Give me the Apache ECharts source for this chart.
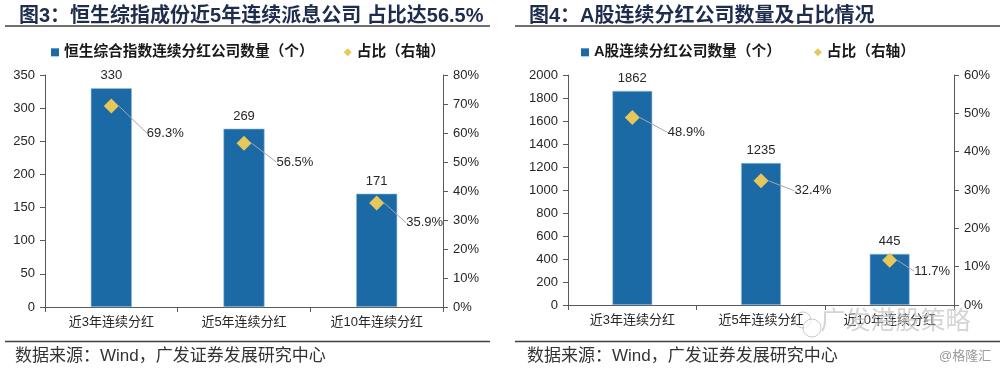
<!DOCTYPE html>
<html>
<head>
<meta charset="utf-8">
<script src="https://cdn.jsdelivr.net/npm/echarts@6/dist/echarts.min.js"></script>
<style>
html,body{margin:0;padding:0;background:#fff;}
#c{width:1000px;height:370px;}
</style>
</head>
<body>
<div id="c"></div>
<script>
// ---- data ----
var categories = ['近3年连续分红', '近5年连续分红', '近10年连续分红'];
var hsCounts = [330, 269, 171];
var hsShare = [69.3, 56.5, 35.9];
var aCounts = [1862, 1235, 445];
var aShare = [48.9, 32.4, 11.7];
var hsLeftTicks = { min: 0, max: 350, interval: 50 };
var hsRightTicks = { min: 0, max: 80, interval: 10 };
var aLeftTicks = { min: 0, max: 2000, interval: 200 };
var aRightTicks = { min: 0, max: 60, interval: 10 };

var titleLeft = '图3：恒生综指成份近5年连续派息公司 占比达56.5%';
var titleRight = '图4：A股连续分红公司数量及占比情况';
var legendBarLeft = '恒生综合指数连续分红公司数量（个）';
var legendBarRight = 'A股连续分红公司数量（个）';
var legendShare = '占比（右轴）';
var sourceText = '数据来源：Wind，广发证券发展研究中心';

// ---- style ----
var FONT = '"Liberation Sans", Arial, "Noto Sans CJK SC", sans-serif';
var BAR = '#1B6AA5';
var GOLD = '#E8C75A';
var AXIS = '#595959';
var TXT = '#262626';
var hsLabelOffsets = [[23, 27], [20, 19], [17, 20]];
var aLabelOffsets = [[23, 15], [21, 10], [12, 11]];

function yAxisCfg(ticks, grid, pos, pct) {
  return {
    type: 'value', gridIndex: grid, position: pos,
    min: ticks.min, max: ticks.max, interval: ticks.interval,
    axisLine: { show: true, lineStyle: { color: AXIS, width: 1 } },
    axisTick: { show: true, length: 5, lineStyle: { color: AXIS } },
    splitLine: { show: false },
    axisLabel: {
      color: TXT, fontSize: 13, fontFamily: FONT, margin: 10,
      formatter: function (v) { return pct ? v + '%' : String(v); }
    }
  };
}
function xAxisCfg(grid) {
  return {
    type: 'category', gridIndex: grid, data: categories,
    axisLine: { lineStyle: { color: AXIS, width: 1.2 } },
    axisTick: { show: true, length: 5, alignWithLabel: false, lineStyle: { color: AXIS } },
    axisLabel: { color: TXT, fontSize: 13, fontFamily: FONT, margin: 9 }
  };
}
function scatterSeries(data, xi, yi, offsets) {
  return {
    name: legendShare, type: 'scatter', xAxisIndex: xi, yAxisIndex: yi,
    data: data, symbol: 'diamond', symbolSize: 15,
    itemStyle: { color: GOLD, opacity: 1 },
    z: 5,
    label: {
      show: true, position: 'right', color: TXT, fontSize: 13, fontFamily: FONT,
      formatter: function (p) { return p.value.toFixed(1) + '%'; }
    },
    labelLine: { show: true, lineStyle: { color: '#A6A6A6', width: 1 } },
    labelLayout: function (p) {
      var o = offsets[p.dataIndex];
      return { dx: o[0], dy: o[1] };
    }
  };
}
function barSeries(name, data, xi, yi) {
  return {
    name: name, type: 'bar', xAxisIndex: xi, yAxisIndex: yi,
    data: data, barWidth: '31%',
    itemStyle: { color: BAR, borderColor: '#9DC3E6', borderWidth: 0.6 },
    label: { show: true, position: 'top', distance: 6, color: TXT, fontSize: 13, fontFamily: FONT }
  };
}

var chart = echarts.init(document.getElementById('c'), null, { renderer: 'canvas' });
chart.setOption({
  backgroundColor: '#fff',
  animation: false,
  textStyle: { fontFamily: FONT },
  title: [
    { text: titleLeft, left: 14, top: 1, textStyle: { fontSize: 20, fontWeight: 'bold', color: '#1E2D4E', fontFamily: FONT } },
    { text: titleRight, left: 524, top: 1, textStyle: { fontSize: 20, fontWeight: 'bold', color: '#1E2D4E', fontFamily: FONT } }
  ],
  legend: [
    {
      left: 46, top: 40, itemGap: 30, itemWidth: 8, itemHeight: 8,
      itemStyle: { borderWidth: 0 },
      data: [{ name: legendBarLeft, icon: 'rect' }, { name: legendShare, icon: 'diamond' }],
      textStyle: { fontSize: 14.7, color: '#1a1a1a', fontFamily: FONT, fontWeight: 'bold' },
      selectedMode: false
    },
    {
      left: 576, top: 40, itemGap: 33, itemWidth: 8, itemHeight: 8,
      itemStyle: { borderWidth: 0 },
      data: [{ name: legendBarRight, icon: 'rect' }, { name: legendShare, icon: 'diamond' }],
      textStyle: { fontSize: 14.7, color: '#1a1a1a', fontFamily: FONT, fontWeight: 'bold' },
      selectedMode: false
    }
  ],
  grid: [
    { left: 45, right: 557, top: 75, bottom: 63 },
    { left: 568, right: 46, top: 75, bottom: 65 }
  ],
  xAxis: [xAxisCfg(0), xAxisCfg(1)],
  yAxis: [
    yAxisCfg(hsLeftTicks, 0, 'left', false),
    yAxisCfg(hsRightTicks, 0, 'right', true),
    yAxisCfg(aLeftTicks, 1, 'left', false),
    yAxisCfg(aRightTicks, 1, 'right', true)
  ],
  series: [
    barSeries(legendBarLeft, hsCounts, 0, 0),
    scatterSeries(hsShare, 0, 1, hsLabelOffsets),
    barSeries(legendBarRight, aCounts, 1, 2),
    scatterSeries(aShare, 1, 3, aLabelOffsets)
  ],
  graphic: [
    { type: 'line', shape: { x1: 5, y1: 26, x2: 490, y2: 26 }, style: { stroke: '#404040', lineWidth: 1.5 } },
    { type: 'line', shape: { x1: 515, y1: 26, x2: 1000, y2: 26 }, style: { stroke: '#404040', lineWidth: 1.5 } },
    { type: 'line', shape: { x1: 5, y1: 341.5, x2: 490, y2: 341.5 }, style: { stroke: '#404040', lineWidth: 1.5 } },
    { type: 'line', shape: { x1: 515, y1: 341.5, x2: 1000, y2: 341.5 }, style: { stroke: '#404040', lineWidth: 1.5 } },
    { type: 'text', left: 15, top: 348, style: { text: sourceText, fontSize: 17, fill: '#333', fontFamily: FONT } },
    { type: 'text', left: 527, top: 348, style: { text: sourceText, fontSize: 17, fill: '#333', fontFamily: FONT } },
    { type: 'text', left: 939, top: 350, style: { text: '@格隆汇', fontSize: 13, fill: '#9a9a9a', fontFamily: FONT } },
    { type: 'circle', shape: { cx: 803, cy: 320, r: 8 }, style: { fill: 'none', stroke: 'rgba(150,150,150,0.5)', lineWidth: 1 }, z: 100 },
    { type: 'circle', shape: { cx: 812, cy: 328, r: 9 }, style: { fill: 'rgba(255,255,255,0.6)', stroke: 'rgba(150,150,150,0.5)', lineWidth: 1 }, z: 100 },
    { type: 'text', left: 820, top: 309, z: 100, style: { text: '广发港股策略', fontSize: 25, fill: 'rgba(160,160,160,0.45)', stroke: 'rgba(255,255,255,0.5)', lineWidth: 1, fontFamily: FONT } }
  ]
});
</script>
</body>
</html>
